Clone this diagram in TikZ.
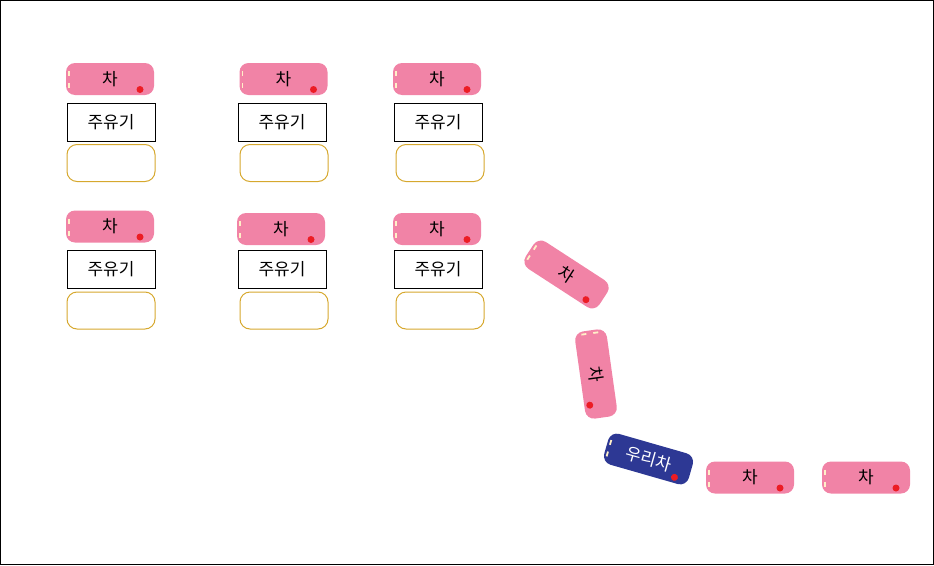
\documentclass[tikz,border=0pt]{standalone}
\usepackage{fontspec}
\newfontfamily\kr{Noto Sans CJK KR}
\definecolor{carpink}{RGB}{241,131,166}
\definecolor{ourblue}{RGB}{45,56,148}
\definecolor{spotline}{RGB}{214,168,46}
\definecolor{lampcol}{RGB}{255,240,200}
\definecolor{dotred}{RGB}{236,28,36}
\tikzset{
    car/.style={fill=carpink, rounded corners=9pt, minimum width=88pt, minimum height=32pt, inner sep=0pt, font=\kr\fontsize{17}{19}\selectfont},
    ourcar/.style={car, fill=ourblue, text=white},
    pump/.style={draw, line width=0.8pt, minimum width=88pt, minimum height=38pt, inner sep=0pt, font=\kr\fontsize{17}{19}\selectfont},
    spot/.style={draw=spotline, line width=1pt, rounded corners=10pt, minimum width=88pt, minimum height=37pt, inner sep=0pt},
    lamp/.style={draw=lampcol, line width=1.8pt},
    taillight/.style={fill=dotred},
}
\newcommand{\placecar}[5]{%
    \begin{scope}[shift={#2}, rotate=#3]
        \node[#4, transform shape] (#1) at (0,0) {#5};
        \draw[lamp] (-41,-8) -- (-41,-3);
        \draw[lamp] (-41,4) -- (-41,9);
        \fill[taillight] (30,10.5) circle (3.5pt);
    \end{scope}}
\begin{document}
\begin{tikzpicture}[x=1pt, y=-1pt]
    \draw[line width=1pt] (0.5,0.5) rectangle (933.5,564.5);
    % Station lanes: car, pump, empty spot
    \foreach \r/\c/\cx/\cy/\px/\py/\sx in {1/1/110/79/111/122/111, 1/2/283.5/79/282/122/284, 1/3/437/79/438/122/440,
            2/1/110/226.5/111/269.5/111, 2/2/281/229/282/269.5/284, 2/3/437/229/438/269.5/440} {
            \placecar{Car-\r-\c}{(\cx,\cy)}{0}{car}{차}
            \node[pump] (Pump-\r-\c) at (\px,\py) {주유기};
            \node[spot] (Spot-\r-\c) at (\sx,\py+41) {};
        }
    % Waiting line
    \placecar{Wait-1}{(566.5,274.5)}{-33}{car}{차}
    \placecar{Wait-2}{(596,374)}{-82}{car}{차}
    \placecar{OurCar}{(648.5,459)}{-16}{ourcar}{우리차}
    \placecar{Wait-3}{(750,477.5)}{0}{car}{차}
    \placecar{Wait-4}{(866,477.5)}{0}{car}{차}
\end{tikzpicture}
\end{document}
